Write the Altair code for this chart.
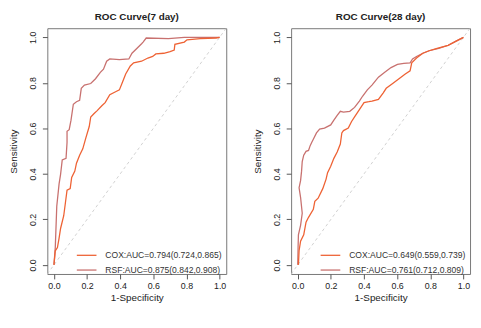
import altair as alt
import pandas as pd

FONT = "Liberation Sans"
COX_COLOR = "#EE6234"
RSF_COLOR = "#C8716F"

# ---- 7 day panel ----
d7_cox_x = [0, 0.008, 0.021, 0.031, 0.040, 0.059, 0.069, 0.079, 0.098, 0.107, 0.126, 0.136, 0.155, 0.174,
            0.193, 0.213, 0.222, 0.241, 0.261, 0.289, 0.309, 0.337, 0.375, 0.395, 0.414, 0.433, 0.461, 0.481,
            0.529, 0.567, 0.596, 0.615, 0.663, 0.701, 0.726, 0.730, 0.787, 0.803, 0.883, 0.979, 1.0]
d7_cox_y = [0, 0.062, 0.076, 0.118, 0.160, 0.216, 0.272, 0.328, 0.335, 0.384, 0.412, 0.447, 0.482, 0.510,
            0.559, 0.608, 0.650, 0.664, 0.678, 0.699, 0.713, 0.748, 0.762, 0.769, 0.804, 0.839, 0.874, 0.888,
            0.895, 0.909, 0.916, 0.927, 0.930, 0.937, 0.944, 0.969, 0.979, 0.989, 0.994, 0.997, 1.0]
d7_rsf_x = [0, 0.008, 0.017, 0.031, 0.040, 0.050, 0.073, 0.079, 0.079, 0.092, 0.103, 0.117, 0.136, 0.155,
            0.165, 0.184, 0.222, 0.251, 0.280, 0.299, 0.318, 0.337, 0.395, 0.452, 0.471, 0.5, 0.529, 0.538,
            0.557, 0.691, 0.787, 0.977, 1.0]
d7_rsf_y = [0, 0.076, 0.258, 0.356, 0.398, 0.461, 0.468, 0.538, 0.587, 0.594, 0.636, 0.706, 0.717, 0.723,
            0.776, 0.790, 0.797, 0.818, 0.846, 0.860, 0.895, 0.905, 0.902, 0.905, 0.930, 0.951, 0.972, 0.979,
            0.997, 0.994, 1.0, 1.0, 1.0]
d7_labels = ["COX:AUC=0.794(0.724,0.865)", "RSF:AUC=0.875(0.842,0.908)"]

# ---- 28 day panel ----
d28_cox_x = [0.004, 0.008, 0.017, 0.036, 0.050, 0.065, 0.094, 0.103, 0.123, 0.151, 0.171, 0.180, 0.199, 0.218,
             0.238, 0.257, 0.266, 0.276, 0.305, 0.324, 0.343, 0.362, 0.381, 0.400, 0.429, 0.448, 0.487, 0.515,
             0.534, 0.573, 0.611, 0.649, 0.678, 0.688, 0.717, 0.755, 0.793, 0.841, 0.908, 0.956, 1.0]
d28_cox_y = [0, 0.062, 0.104, 0.132, 0.188, 0.209, 0.244, 0.279, 0.293, 0.335, 0.377, 0.405, 0.433, 0.468,
             0.496, 0.531, 0.580, 0.590, 0.601, 0.629, 0.650, 0.671, 0.692, 0.713, 0.717, 0.720, 0.727, 0.755,
             0.776, 0.797, 0.818, 0.839, 0.853, 0.888, 0.909, 0.930, 0.941, 0.951, 0.965, 0.983, 1.0]
d28_rsf_x = [0, 0.002, 0.004, 0.017, 0.027, 0.017, 0.008, 0.017, 0.023, 0.027, 0.036, 0.050, 0.065, 0.075,
             0.084, 0.094, 0.113, 0.132, 0.161, 0.199, 0.218, 0.238, 0.257, 0.276, 0.314, 0.343, 0.372, 0.391,
             0.420, 0.448, 0.487, 0.525, 0.563, 0.602, 0.640, 0.678, 0.693, 0.717, 0.755, 0.793, 0.851, 0.908,
             0.956, 1.0]
d28_rsf_y = [0, 0.076, 0.132, 0.174, 0.227, 0.297, 0.339, 0.370, 0.412, 0.454, 0.482, 0.499, 0.503, 0.524,
             0.538, 0.552, 0.580, 0.597, 0.601, 0.615, 0.636, 0.657, 0.675, 0.671, 0.675, 0.692, 0.720, 0.741,
             0.769, 0.790, 0.825, 0.846, 0.867, 0.881, 0.885, 0.888, 0.905, 0.916, 0.930, 0.941, 0.951, 0.965,
             0.983, 1.0]
d28_labels = ["COX:AUC=0.649(0.559,0.739)", "RSF:AUC=0.761(0.712,0.809)"]

ticks = [0, 0.2, 0.4, 0.6, 0.8, 1.0]
lim = [-0.04, 1.04]


def panel(title, cx, cy, rx, ry, labels):
    rows = []
    for i, (a, b) in enumerate(zip(rx, ry)):
        rows.append({"x": a, "y": b, "model": labels[1], "ord": i})
    for i, (a, b) in enumerate(zip(cx, cy)):
        rows.append({"x": a, "y": b, "model": labels[0], "ord": i})
    df = pd.DataFrame(rows)
    xs = alt.Scale(domain=lim, nice=False, zero=False)
    ys = alt.Scale(domain=lim, nice=False, zero=False)
    xax = alt.Axis(values=ticks, format=".1f", title="1-Specificity", grid=False, domain=False,
                   tickSize=5, labelPadding=3, titlePadding=2)
    yax = alt.Axis(values=ticks, format=".1f", title="Sensitivity", grid=False, domain=False,
                   tickSize=5, labelPadding=5, titlePadding=10, labelAngle=270,
                   labelAlign="center", labelBaseline="bottom")
    diag = alt.Chart(pd.DataFrame({"x": lim, "y": lim})).mark_line(
        color="#c4c4c4", strokeDash=[3, 3], strokeWidth=0.8
    ).encode(x=alt.X("x:Q", scale=xs, axis=xax), y=alt.Y("y:Q", scale=ys, axis=yax))
    lines = alt.Chart(df).mark_line(strokeWidth=1.3).encode(
        x=alt.X("x:Q", scale=xs, axis=xax),
        y=alt.Y("y:Q", scale=ys, axis=yax),
        color=alt.Color("model:N", scale=alt.Scale(domain=labels, range=[COX_COLOR, RSF_COLOR]),
                        legend=alt.Legend(orient="none", legendX=34, legendY=225, title=None,
                                          symbolType="M-2,0H2", symbolSize=100, symbolStrokeWidth=1.3,
                                          labelFontSize=8.7, labelOffset=13, rowPadding=4, padding=0,
                                          labelColor="#333", labelFont=FONT)),
        order="ord:Q",
    )
    return alt.layer(diag, lines).properties(
        width=182, height=250,
        title=alt.TitleParams(title, fontSize=10, fontWeight="bold", font=FONT, anchor="middle",
                              offset=5, color="#222"),
    )


chart = alt.hconcat(
    panel("ROC Curve(7 day)", d7_cox_x, d7_cox_y, d7_rsf_x, d7_rsf_y, d7_labels),
    panel("ROC Curve(28 day)", d28_cox_x, d28_cox_y, d28_rsf_x, d28_rsf_y, d28_labels),
    spacing=23,
).resolve_scale(color="independent").configure_view(
    stroke="#777", strokeWidth=1
).configure_axis(
    labelFont=FONT, titleFont=FONT, labelFontSize=9, titleFontSize=10, titleFontWeight="normal",
    labelColor="#222", titleColor="#222", tickColor="#555"
).properties(padding={"left": 0, "top": 0, "right": 0, "bottom": 0})

chart.save("out.html", embed_options={"renderer": "svg", "actions": False})
